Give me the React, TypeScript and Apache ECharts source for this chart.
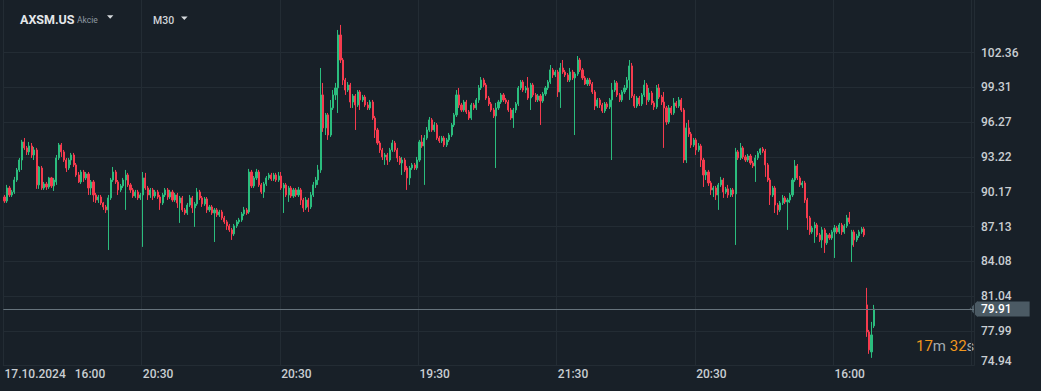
import React, { useEffect, useRef } from "react";
import * as echarts from "echarts";

// Each candle: [open, close, low, high]
const seg0 = [
  [89.72,89.37,89.20,89.90],[89.37,90.51,89.20,90.78],[90.51,89.90,89.72,90.69],[89.90,90.16,89.72,90.34],
  [90.16,91.21,89.99,91.48],[91.21,92.09,91.04,92.26],[92.09,92.96,91.91,93.14],[92.96,94.54,92.09,94.72],
  [94.54,94.02,93.84,94.89],[94.02,93.67,93.40,94.19],[93.67,94.19,93.40,94.54],[94.19,93.40,93.14,94.45],
  [93.40,93.84,92.96,94.10],[93.84,90.78,90.43,94.02],[90.78,92.35,90.43,92.44],[92.26,90.51,90.34,92.44],
  [90.51,90.86,90.34,91.04],[90.86,90.60,90.34,91.04],[90.60,91.39,90.43,91.48],[91.39,90.69,90.51,91.48],
  [90.69,91.21,90.25,91.39],[91.04,93.14,90.78,93.40],[93.14,94.28,92.96,94.45],[94.28,93.67,93.23,94.45],
  [93.67,92.96,92.79,93.84],[92.96,92.26,91.91,93.14],[92.26,92.96,92.09,93.14],[92.96,93.40,92.53,93.58],
  [93.40,92.53,92.35,93.58],[92.53,91.65,91.48,92.70],[91.65,91.04,90.95,91.91],[91.04,91.91,90.86,92.09],
  [91.91,91.39,91.04,92.09],[91.39,91.74,91.21,91.91],[91.74,90.51,89.90,91.91],[90.51,91.04,89.90,91.21],
  [91.04,89.90,89.29,91.21],[89.90,89.46,89.20,90.08],[89.46,89.72,89.20,89.90],[89.72,89.20,89.02,89.90],
  [89.20,88.85,88.59,89.29],[88.85,88.59,88.32,89.02],[88.59,89.64,85.08,89.90],[89.64,91.21,89.46,91.39],
  [91.21,91.91,91.04,92.35],[91.91,91.04,90.86,92.09],[91.04,90.34,89.90,91.21],[90.34,90.69,90.16,90.86],
  [90.69,91.21,90.51,91.39],[91.21,91.65,88.59,92.09],[91.65,90.78,90.60,91.83],[90.78,90.34,90.08,90.95],
  [90.34,89.81,89.64,90.51],[89.81,90.16,89.64,90.34],[90.16,89.64,89.46,90.34],[89.64,89.90,89.46,90.08],
];
const seg1 = [
  [89.90,91.39,85.35,91.91],[91.39,90.51,90.34,91.83],[90.51,89.90,89.46,90.69],[89.90,90.34,89.64,90.51],
  [90.34,89.81,89.46,90.51],[89.81,90.16,89.64,90.34],[90.16,89.72,89.55,90.34],[89.72,89.20,88.59,89.90],
  [89.20,89.90,89.02,90.08],[89.90,90.34,89.72,90.51],[90.34,89.72,89.46,90.51],[89.72,90.16,89.55,90.34],
  [90.16,89.46,89.29,90.34],[89.46,89.90,89.29,90.08],[89.90,89.20,88.76,90.08],[89.20,89.64,87.45,89.81],
  [89.64,88.59,88.41,89.81],[88.59,88.32,88.15,88.76],[88.32,89.02,88.15,89.20],[89.02,89.64,88.85,89.90],
  [89.64,88.76,88.32,89.81],[88.76,89.11,87.10,89.29],[89.11,90.16,88.94,90.51],[90.16,89.64,89.46,90.34],
  [89.64,89.11,88.85,89.81],[89.11,89.55,88.94,89.72],[89.55,88.59,88.32,89.72],[88.59,88.85,88.41,89.02],
  [88.85,88.32,88.15,89.02],[88.32,88.59,85.78,88.76],[88.59,88.15,87.97,88.76],[88.15,88.41,87.97,88.59],
  [88.41,87.89,87.71,88.59],[87.89,87.54,87.36,88.06],[87.54,87.19,86.84,87.71],[87.19,86.84,86.66,87.36],
  [86.84,86.49,85.96,87.01],[86.49,87.19,86.31,87.36],[87.19,87.54,87.01,87.71],[87.54,87.71,87.36,87.89],
  [87.71,88.24,87.54,88.41],[88.24,88.59,88.06,88.85],[88.59,88.32,88.15,88.76],[88.41,91.91,88.24,92.18],
  [91.91,90.69,90.51,92.09],[90.69,91.39,90.51,91.56],[91.39,91.91,91.21,92.18],[91.91,90.78,90.60,92.09],
  [90.78,90.16,89.99,90.95],[90.16,90.86,89.64,91.04],[90.86,91.39,90.69,91.56],[91.39,91.65,91.21,91.83],
  [91.65,91.30,91.13,91.83],[91.30,91.65,91.13,91.83],[91.65,91.21,91.04,91.83],[91.21,91.56,91.04,91.91],
];
const seg2 = [
  [91.56,90.51,90.34,91.91],[90.51,90.78,88.32,90.95],[90.78,89.90,89.72,90.95],[89.90,90.51,89.29,90.69],
  [90.51,89.81,89.64,90.69],[89.81,90.34,89.64,90.51],[90.34,89.90,89.72,90.51],[89.90,90.34,89.72,90.60],
  [90.34,89.46,89.02,90.51],[89.46,88.76,88.41,89.64],[88.76,89.46,88.59,89.72],[89.46,88.85,88.41,89.64],
  [88.85,89.90,88.67,90.16],[89.90,90.78,89.72,91.04],[90.78,91.21,90.51,91.48],[91.21,92.09,90.78,92.53],
  [92.09,98.66,91.83,101.02],[98.66,95.77,95.42,99.71],[95.77,96.91,95.15,97.08],[96.91,95.15,94.72,97.08],
  [95.15,97.52,94.98,98.22],[97.52,98.66,97.34,99.09],[98.66,99.27,98.22,99.71],[99.27,103.91,97.08,104.35],
  [103.91,101.72,101.46,104.79],[101.72,99.97,99.53,101.90],[99.97,99.09,98.66,100.15],[99.09,99.53,98.92,99.79],
  [99.53,98.04,97.52,99.71],[98.04,98.57,97.52,98.74],[98.57,97.78,95.59,98.74],[97.78,98.92,97.61,99.09],
  [98.92,98.22,97.34,99.09],[98.22,98.48,98.04,98.66],[98.48,97.78,97.61,98.66],[97.78,97.52,97.34,98.04],
  [97.52,98.04,97.34,98.22],[98.04,96.64,96.47,98.22],[96.64,95.59,94.89,96.82],[95.59,94.45,94.28,95.77],
  [94.45,93.84,93.58,94.63],[93.84,93.23,92.96,94.02],[93.23,93.40,92.53,93.58],[93.40,92.96,92.53,93.58],
  [92.96,93.84,92.79,94.02],[93.84,94.45,93.67,94.72],[94.45,93.84,93.67,94.63],[93.84,93.14,92.79,94.02],
  [93.14,92.70,92.53,93.31],[92.70,92.96,91.65,93.23],[92.96,92.09,91.91,93.14],[92.26,91.39,90.34,92.44],
  [91.39,92.26,90.78,92.44],[92.26,92.53,92.09,92.70],[92.53,92.26,92.09,92.70],[92.26,92.96,92.09,93.23],
];
const seg3 = [
  [92.96,94.54,92.79,94.72],[94.54,94.19,94.02,95.15],[94.19,94.89,90.78,95.15],[94.89,95.59,94.72,95.85],
  [95.59,96.47,95.42,96.73],[96.47,95.59,95.42,96.64],[95.59,96.03,95.42,96.29],[96.03,94.89,94.72,96.20],
  [94.89,94.63,94.45,95.07],[94.63,94.89,94.45,95.07],[94.89,94.28,94.10,95.07],[94.28,94.72,94.10,94.89],
  [94.72,95.15,94.54,95.33],[95.15,96.03,94.98,96.20],[96.03,96.91,95.85,97.08],[96.91,98.66,96.73,99.09],
  [98.66,97.78,97.52,99.27],[97.78,97.34,97.17,97.96],[97.34,98.04,97.17,98.22],[98.04,97.17,96.99,98.22],
  [97.17,96.64,96.47,97.34],[96.64,97.78,96.47,97.96],[97.78,97.52,97.34,97.96],[97.52,98.22,97.34,98.39],
  [98.22,99.27,97.96,99.53],[99.27,99.97,99.09,100.23],[99.97,99.53,99.36,100.15],[99.53,98.39,98.22,99.71],
  [98.39,97.87,97.69,98.57],[97.87,97.34,97.17,98.04],[97.34,96.82,96.64,97.52],[96.82,97.52,92.26,97.96],
  [97.52,98.04,97.34,98.22],[98.04,98.66,97.87,98.83],[98.66,98.22,98.04,98.83],[98.22,98.04,97.87,98.39],
  [98.04,97.34,97.17,98.22],[97.34,96.64,96.47,97.52],[96.64,97.34,95.77,97.52],[97.34,97.87,97.08,98.04],
  [97.87,99.27,97.69,99.44],[99.27,99.79,99.09,99.97],[99.79,99.09,98.92,99.97],[99.09,99.27,98.83,99.44],
  [99.27,98.39,98.22,100.23],[98.39,99.53,97.34,99.71],[99.53,98.66,98.48,99.71],[98.66,98.22,98.04,98.83],
  [98.22,98.57,98.04,98.74],[98.57,98.13,96.03,98.74],[98.13,98.74,97.96,98.92],[98.74,99.27,98.57,99.44],
  [99.27,99.79,99.09,99.97],[99.79,100.85,99.62,101.28],[100.85,100.41,100.15,101.02],[100.41,100.67,100.23,100.85],
];
const seg4 = [
  [100.67,98.92,98.48,100.85],[98.92,101.02,97.52,101.46],[101.02,100.67,100.50,101.72],[100.67,100.41,100.23,100.85],
  [100.41,99.97,99.79,100.58],[99.97,100.67,99.79,101.02],[100.67,100.15,99.97,100.85],[100.15,100.50,95.15,100.67],
  [100.50,101.72,100.32,102.07],[101.72,100.85,100.67,101.90],[100.85,100.15,99.97,101.02],[100.15,99.62,99.53,100.32],
  [99.62,99.97,99.44,100.15],[99.97,99.62,99.44,100.15],[99.62,98.92,98.74,99.79],[98.92,97.69,97.34,99.09],
  [97.69,98.22,97.52,98.39],[98.22,97.78,97.52,98.39],[97.78,97.26,97.08,97.96],[97.26,97.87,97.08,98.04],
  [97.87,97.61,97.43,98.04],[97.61,98.22,97.43,98.39],[98.22,99.09,92.96,99.71],[99.09,99.71,98.92,99.97],
  [99.71,98.66,98.48,99.88],[98.66,98.22,98.04,98.83],[98.22,98.92,98.04,99.09],[98.92,99.27,98.74,99.53],
  [99.27,99.97,99.09,100.23],[99.97,101.20,98.22,101.72],[101.20,98.57,98.39,101.46],[98.57,97.69,97.52,98.74],
  [97.69,98.39,97.52,98.57],[98.39,97.87,97.69,98.57],[97.87,98.66,97.69,98.83],[98.66,99.53,98.48,99.97],
  [99.53,98.22,97.78,99.71],[98.22,98.83,98.04,99.27],[98.83,97.96,97.78,99.01],[97.96,97.61,97.34,98.13],
  [97.61,99.27,97.43,99.53],[99.27,98.48,98.31,99.62],[98.48,98.04,97.78,98.66],[98.04,97.52,94.02,98.92],
  [97.52,96.29,96.03,97.69],[96.29,97.52,96.12,97.78],[97.52,97.08,96.91,97.69],[97.08,97.96,96.91,98.39],
  [97.96,97.69,97.52,98.13],[97.69,98.22,97.52,98.48],[98.22,97.34,97.17,98.39],[97.34,92.96,92.70,97.52],
  [92.96,95.77,92.70,96.20],[95.77,95.24,94.98,96.47],[95.24,94.28,94.02,95.42],[94.28,94.72,94.10,94.89],
];
const seg5 = [
  [94.72,93.84,93.40,94.89],[93.84,94.19,93.67,94.45],[94.19,92.96,92.35,94.37],[92.96,91.65,90.60,93.14],
  [91.65,91.91,91.21,92.09],[91.91,90.95,90.69,92.09],[90.95,90.34,89.90,91.13],[90.34,90.51,89.72,90.69],
  [90.51,89.90,89.46,90.69],[89.90,90.78,88.59,90.95],[90.78,91.21,90.60,91.48],[91.21,90.16,89.64,91.39],
  [90.16,90.43,89.99,90.60],[90.43,89.90,89.64,90.78],[89.90,90.34,89.72,90.51],[90.34,89.99,89.72,90.51],
  [89.99,93.67,85.52,94.02],[93.67,93.14,92.96,93.84],[93.14,94.02,92.96,94.45],[94.02,93.23,93.05,94.19],
  [93.23,92.96,92.79,93.40],[92.96,93.31,92.79,93.49],[93.31,92.70,92.53,93.49],[92.70,92.44,92.26,92.88],
  [92.44,93.14,91.04,93.40],[93.14,93.58,92.96,93.75],[93.58,93.93,93.40,94.02],[93.93,93.75,93.58,94.10],
  [93.75,92.53,91.48,93.93],[92.53,91.21,91.04,92.70],[91.21,89.90,89.02,91.39],[89.90,90.51,89.72,90.69],
  [90.51,89.02,88.32,90.69],[89.02,88.59,88.15,89.20],[88.59,89.20,88.41,89.37],[89.20,89.64,89.02,89.90],
  [89.64,89.29,89.11,89.81],[89.29,89.46,86.84,89.64],[89.46,89.90,89.20,90.08],[89.90,91.21,89.72,91.39],
  [91.21,92.44,91.04,92.96],[92.44,91.39,91.21,92.61],[91.39,90.78,90.60,91.56],[90.78,90.95,90.51,91.13],
  [90.95,89.46,89.20,91.13],[89.46,87.89,86.84,89.64],[87.89,86.66,86.40,88.06],[86.66,87.01,86.49,87.19],
  [87.01,87.27,85.70,87.54],[87.27,86.40,86.22,87.45],[86.40,85.96,85.78,86.57],[85.96,86.84,85.26,87.10],
  [86.84,85.70,84.82,87.01],[85.70,86.40,85.52,86.57],[86.40,86.13,85.96,86.57],[86.13,86.66,85.96,86.84],
];
const seg6 = [
  [86.66,87.01,84.38,87.27],[87.01,86.66,86.49,87.19],[86.66,87.27,86.49,87.45],[87.27,86.66,86.40,87.45],
  [86.66,87.19,86.49,87.36],[87.19,87.89,87.01,88.15],[87.89,87.54,87.36,88.41],[85.52,86.66,84.03,86.84],
  [86.66,85.96,85.35,86.84],[85.96,86.31,85.78,86.49],[86.31,86.66,86.13,86.84],[86.66,86.92,86.49,87.10],
  [86.92,86.40,86.22,87.10],[80.27,77.90,77.47,81.76],[77.90,76.33,75.98,78.08],[76.15,77.64,75.63,78.78],
  [78.43,79.91,78.25,80.27],
];

const tickLabels = ["17.10.2024|16:00", "20:30", "20:30", "19:30", "21:30", "20:30", "16:00"];
const barsPerTick = 56;
const slotCount = 393;
const yTickBase = 74.944;
const yTickStep = 3.046;
const yTop = 105.31;
const instrument = "AXSM.US";
const assetType = "Akcie";
const timeframe = "M30";
const countdownMin = "17";
const countdownSec = "32";

const BG = "#182028";
const GRID = "#232c34";
const TEXT = "#c9ced2";
const UP = "#2bbd7e";
const DOWN = "#f53b4e";
const TAG = "#4b5a64";
const FONT = "Roboto, 'Noto Sans', sans-serif";

export default function App() {
  const ref = useRef<HTMLDivElement>(null);

  useEffect(() => {
    const el = ref.current!;
    const chart = echarts.init(el, null, { renderer: "svg" });
    const candles = [...seg0, ...seg1, ...seg2, ...seg3, ...seg4, ...seg5, ...seg6];
    const categories = Array.from({ length: slotCount }, (_, i) => String(i));
    const W = 1041;
    const gridLeft = 3.3;
    const slotW = 2.47;
    const gridRightX = gridLeft + slotCount * slotW;
    const gridRight = W - gridRightX;
    const gridBottom = 25.3;
    const lastClose = candles[candles.length - 1][1];

    const baseGraphic: any[] = [
      {
        type: "text", x: 20, y: 19,
        style: { text: instrument, fill: "#e4e7ea", font: `bold 12.5px ${FONT}`, verticalAlign: "middle", align: "left" },
      },
      {
        type: "text", x: 77, y: 19.5,
        style: { text: assetType, fill: "#8e99a2", font: `8.5px ${FONT}`, verticalAlign: "middle", align: "left" },
      },
      { type: "polygon", shape: { points: [[107, 15.3], [113.4, 15.3], [110.2, 18.8]] }, style: { fill: "#d6dadd" } },
      {
        type: "text", x: 153, y: 20,
        style: { text: timeframe, fill: "#d0d4d8", font: `500 10.5px ${FONT}`, verticalAlign: "middle", align: "left" },
      },
      { type: "polygon", shape: { points: [[181, 16.5], [187.6, 16.5], [184.3, 20]] }, style: { fill: "#d6dadd" } },
      {
        type: "text", x: 916, y: 345.5,
        style: {
          text: `{o|${countdownMin}}{g|m} {o|${countdownSec}}{g|s}`,
          verticalAlign: "middle", align: "left",
          rich: {
            o: { fill: "#f0971e", fontSize: 15, fontFamily: FONT },
            g: { fill: "#a3abb1", fontSize: 15, fontFamily: FONT },
          },
          fontSize: 15, fontFamily: FONT,
        },
      },
    ];

    const option: any = {
      animation: false,
      backgroundColor: BG,
      grid: [
        { left: gridLeft, right: gridRight, top: 19, bottom: gridBottom },
        { left: gridLeft, right: gridRight, top: 0, bottom: gridBottom },
      ],
      xAxis: [
        {
          type: "category", gridIndex: 0, data: categories, boundaryGap: true,
          axisLine: { show: true, lineStyle: { color: GRID } },
          axisTick: { show: false },
          splitLine: { show: false },
          axisLabel: {
            interval: (i: number) => i % barsPerTick === 0,
            formatter: (_v: string, i: number) => {
              if (i % barsPerTick !== 0) return "";
              const t = tickLabels[i / barsPerTick];
              if (!t) return "";
              if (t.includes("|")) {
                const [d, h] = t.split("|");
                return `{d|${d}}{h|${h}}`;
              }
              return t;
            },
            color: TEXT, fontSize: 12, fontFamily: FONT, fontWeight: 500,
            margin: 2, align: "left",
            rich: {
              d: { color: TEXT, fontSize: 12, fontFamily: FONT, fontWeight: 500 },
              h: { color: TEXT, fontSize: 12, fontFamily: FONT, fontWeight: 500, padding: [0, 0, 0, 9] },
            },
          },
        },
        {
          type: "category", gridIndex: 1, data: categories, boundaryGap: true,
          axisLine: { show: false }, axisTick: { show: false }, axisLabel: { show: false },
          splitLine: {
            show: true,
            interval: (i: number) => i % barsPerTick === 0,
            lineStyle: { color: GRID, width: 1 },
          },
        },
      ],
      yAxis: [
        {
          type: "value", gridIndex: 0, position: "right",
          min: yTickBase, max: yTop, interval: yTickStep,
          axisLine: { show: false }, axisTick: { show: false },
          splitLine: { show: true, showMaxLine: false, lineStyle: { color: GRID, width: 1 } },
          axisLabel: {
            showMaxLabel: false,
            margin: 7, color: TEXT, fontSize: 12, fontFamily: FONT, fontWeight: 500,
            formatter: (v: number, i: number) => {
              if (v > yTop - 1) return "";
              const s = v.toFixed(2);
              return i === 0 ? `{lo|${s}}` : s;
            },
            rich: {
              lo: { color: TEXT, fontSize: 12, fontFamily: FONT, fontWeight: 500, padding: [0, 0, 9, 0] },
            },
          },
        },
        { type: "value", gridIndex: 1, show: false, min: 0, max: 1 },
      ],
      series: [
        {
          type: "candlestick", xAxisIndex: 0, yAxisIndex: 0,
          data: candles, barWidth: 1.6,
          itemStyle: { color: UP, color0: DOWN, borderColor: UP, borderColor0: DOWN, borderWidth: 1 },
          markLine: {
            silent: true, symbol: ["none", "none"], animation: false,
            lineStyle: { color: "#66737c", width: 1, type: "solid" },
            label: {
              show: true, position: "end", distance: 3,
              formatter: () => lastClose.toFixed(2),
              backgroundColor: TAG, color: "#ffffff", fontSize: 12, fontFamily: FONT, fontWeight: 500,
              padding: [2, 18, 1, 4],
            },
            data: [{ yAxis: lastClose }],
          },
        },
      ],
      graphic: baseGraphic,
    };

    chart.setOption(option);

    const py = chart.convertToPixel({ yAxisIndex: 0 } as any, lastClose) as number;
    const tagLeft = gridRightX + 3;
    chart.setOption({
      graphic: [
        ...baseGraphic,
        {
          type: "polygon",
          shape: { points: [[tagLeft - 7.5, py], [tagLeft + 0.5, py - 8], [tagLeft + 0.5, py + 8]] },
          style: { fill: TAG },
        },
      ],
    });

    return () => chart.dispose();
  }, []);

  return (
    <div
      ref={ref}
      style={{ position: "absolute", left: 0, top: 0, width: 1041, height: 391 }}
    />
  );
}
